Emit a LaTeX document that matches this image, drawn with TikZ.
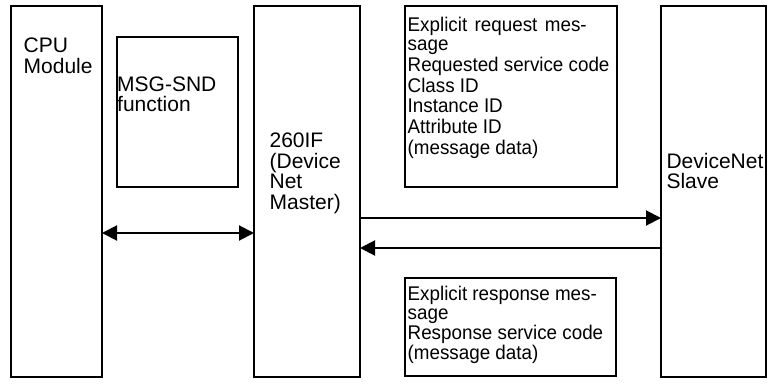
\documentclass[tikz,border=0pt]{standalone}
\usepackage{fontspec}
\setmainfont{Liberation Sans}
\newfontfamily\narrowfont[FakeStretch=0.95]{Liberation Sans}
\usetikzlibrary{positioning,arrows.meta}

\begin{document}
\begin{tikzpicture}[
    x=1pt, y=1pt,
    box/.style={rectangle, draw, line width=2pt, inner sep=0pt, outer sep=0pt, minimum height=371pt},
    txt/.style={inner sep=0pt, align=left, font=\fontsize{21}{20.5}\selectfont},
    msgtxt/.style={txt, font=\narrowfont\fontsize{19.8}{20.7}\selectfont},
    arrow/.style={line width=2pt, -{Triangle[length=15pt,width=15pt]}},
    dblarrow/.style={line width=2pt, {Triangle[length=15pt,width=15pt]}-{Triangle[length=15pt,width=15pt]}}
]
    \useasboundingbox (0,0) rectangle (780,-384);

    % Boxes
    \node[box, minimum width=91pt, anchor=north west] (cpu) at (11,-6) {};
    \node[box, minimum width=121pt, minimum height=150pt, below right=31pt and 15pt of cpu.north east] (msg) {};
    \node[box, minimum width=106pt, below right=0pt and 152pt of cpu.north east] (master) {};
    \node[box, minimum width=212pt, minimum height=181pt, below right=0pt and 45pt of master.north east] (req) {};
    \node[box, minimum width=211pt, minimum height=98pt, below right=91pt and 0pt of req.south west] (resp) {};
    \node[box, minimum width=105pt, below right=0pt and 44pt of req.north east] (slave) {};

    % Texts
    \node[txt, below right=32pt and 12.5pt of cpu.north west] (cpuText) {CPU\\Module};
    \node[txt, below right=39.7pt and 0pt of msg.north west] (msgText) {MSG-SND\\[-0.5pt]function};
    \node[txt, below right=126.7pt and 15.4pt of master.north west] (masterText) {260IF\\(Device\\Net\\Master)};
    \node[txt, below right=146.7pt and 5.3pt of slave.north west] (slaveText) {DeviceNet\\[-0.5pt]Slave};
    \node[msgtxt, below right=11pt and 2.5pt of req.north west] (reqText) {\makebox[179pt][s]{Explicit request mes-}\\[-1.5pt]sage\\Requested service code\\Class ID\\Instance ID\\Attribute ID\\(message data)};
    \node[msgtxt, below right=7.5pt and 2.5pt of resp.north west] (respText) {Explicit response mes-\\[-1.5pt]sage\\Response service code\\[-1pt](message data)};

    % Arrows
    \draw[dblarrow] ([yshift=-41.5pt]cpu.east) -- ([yshift=-41.5pt]master.west);
    \draw[arrow] ([yshift=-26.5pt]master.east) -- ([yshift=-26.5pt]slave.west);
    \draw[arrow] ([yshift=-56.5pt]slave.west) -- ([yshift=-56.5pt]master.east);
\end{tikzpicture}
\end{document}
